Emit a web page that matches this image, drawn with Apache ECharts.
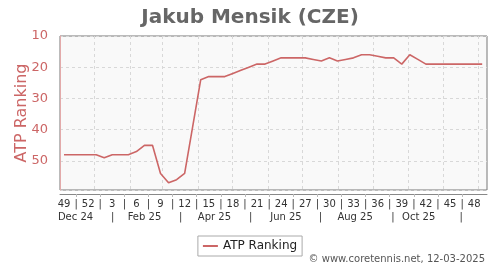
<!DOCTYPE html>
<html><head><meta charset="utf-8">
<script src="https://cdn.jsdelivr.net/npm/echarts@6/dist/echarts.min.js"></script>
<style>html,body{margin:0;padding:0;background:#fff}#c{width:500px;height:270px}</style>
</head><body><div id="c"></div>
<script>
// ISO week numbers, Dec 2024 (wk 49) .. Dec 2025 (wk 49)
const weekNumbers = [49,50,51,52,1,2,3,4,5,6,7,8,9,10,11,12,13,14,15,16,17,18,19,20,21,22,23,24,25,26,27,28,29,30,31,32,33,34,35,36,37,38,39,40,41,42,43,44,45,46,47,48,49];
// ATP ranking per week
const ranking = [48,48,48,48,48,49,48,48,48,47,45,45,54,57,56,54,39,24,23,23,23,22,21,20,19,19,18,17,17,17,17,17.5,18,17,18,17.5,17,16,16,16.5,17,17,19,16,17.5,19,19,19,19,19,19,19,19];
// week-axis tick labels (every 3rd week)
const weekTickLabels = weekNumbers.filter((_, i) => i % 3 === 0);
const weekTickIdx = weekNumbers.map((_, i) => i).filter(i => i % 3 === 0);
// month band labels and where they sit / separate (in week units)
const monthLabels = ['Dec 24','Feb 25','Apr 25','Jun 25','Aug 25','Oct 25'];
const monthLabelAt = [1.93, 10.5, 19.2, 28.1, 36.7, 44.6];
const monthSepAt = [6.54, 15, 23.7, 32.4, 41.4, 49.9];
// month starts (grid lines), in weeks since 2 Dec 2024
const monthStartAt = [4.286, 8.714, 12.714, 17.143, 21.429, 25.857, 30.143, 34.571, 39, 43.286, 47.714, 52];
const yTicks = [10,20,30,40,50];

const RED = '#cc6666';
const chart = echarts.init(document.getElementById('c'), null, {renderer: 'canvas'});

const weekLabelVals = weekTickIdx.map(i => i + 0.5);
const weekSepVals = weekTickIdx.slice(0, -1).map(i => i + 2);
const monthLabelMap = {};
monthLabelAt.forEach((v, i) => monthLabelMap[v] = monthLabels[i]);
const weekLabelMap = {};
weekLabelVals.forEach((v, i) => weekLabelMap[v] = String(weekTickLabels[i]));

const data = ranking.map((v, i) => {
  const item = {value: [i + 0.5, v]};
  if (i === 0) item.label = {show: true, position: 'top', distance: 4, offset: [6, 0]};
  if (i === ranking.length - 1) item.label = {show: true, position: 'bottom', distance: 4, offset: [-4, 0]};
  return item;
});

chart.setOption({
  animation: false,
  textStyle: {fontFamily: 'DejaVu Sans'},
  title: [
    {text: 'Jakub Mensik (CZE)', left: 'center', top: 3,
     textStyle: {fontSize: 20, fontWeight: 'bold', color: '#666', fontFamily: 'DejaVu Sans'}},
    {text: '© www.coretennis.net, 12-03-2025', right: 10, bottom: 1,
     textStyle: {fontSize: 10, fontWeight: 'normal', color: '#555', fontFamily: 'DejaVu Sans'}}
  ],
  legend: {
    top: 236, left: 'center',
    data: [{name: 'ATP Ranking', icon: 'rect'}],
    borderColor: '#aaa', borderWidth: 1, borderRadius: 0,
    padding: [4, 5, 4, 5],
    itemWidth: 15, itemHeight: 2, itemGap: 5,
    textStyle: {fontSize: 12, color: '#222'}
  },
  grid: {left: 60, right: 13, top: 36, bottom: 80, show: true, containLabel: false,
         outerBoundsMode: 'none',
         backgroundColor: '#f9f9f9', borderColor: '#777', borderWidth: 1},
  xAxis: [
    {
      type: 'value', min: 0, max: 53.1, position: 'bottom', offset: 4,
      axisLine: {show: true, lineStyle: {color: '#888'}},
      axisTick: {show: true, length: 3, customValues: weekSepVals, lineStyle: {color: '#bbb'}},
      splitLine: {show: false},
      axisLabel: {
        customValues: weekLabelVals.concat(weekSepVals),
        margin: 5, fontSize: 10, color: '#333',
        formatter: v => (weekLabelMap[v] !== undefined ? weekLabelMap[v] : '|')
      }
    },
    {
      type: 'value', min: 0, max: 53.1, position: 'bottom', offset: 18,
      axisLine: {show: false},
      axisTick: {show: false, customValues: monthStartAt},
      splitLine: {show: true, lineStyle: {color: '#d8d8d8', type: [3, 3], width: 1}},
      axisLabel: {
        customValues: monthLabelAt.concat(monthSepAt),
        margin: 4, fontSize: 10, color: '#333',
        formatter: v => (monthLabelMap[v] !== undefined ? monthLabelMap[v] : '|')
      }
    }
  ],
  yAxis: {
    type: 'value', inverse: true, min: 10, max: 59.3, interval: 10,
    position: 'left', offset: 5,
    name: 'ATP Ranking', nameLocation: 'middle', nameGap: 25, nameMoveOverlap: false,
    nameTextStyle: {fontSize: 16, color: RED},
    axisLine: {show: true, lineStyle: {color: '#e3aaaa'}},
    axisTick: {show: false},
    axisLabel: {fontSize: 13, color: RED, margin: 7,
                formatter: v => (yTicks.indexOf(v) >= 0 ? String(v) : '')},
    splitLine: {show: true, lineStyle: {color: '#d8d8d8', type: [3, 3], width: 1}}
  },
  series: [{
    name: 'ATP Ranking', type: 'line', xAxisIndex: 0,
    data: data, symbol: 'none', showSymbol: false,
    lineStyle: {color: RED, width: 1.6},
    itemStyle: {color: RED},
    label: {color: RED, fontSize: 10},
    z: 3
  }]
});
</script>
</body></html>
